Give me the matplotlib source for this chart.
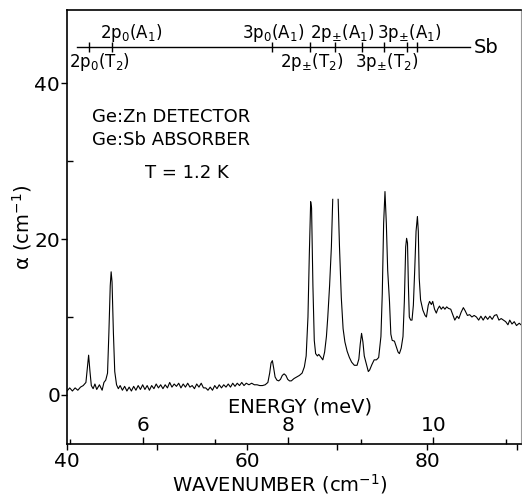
import numpy as np
import matplotlib
matplotlib.use("Agg")
import matplotlib.pyplot as plt
from matplotlib.ticker import FixedLocator, NullFormatter

plt.rcParams['font.family'] = ['DejaVu Sans']
plt.rcParams['mathtext.default'] = 'regular'

# ---- spectrum (wavenumber cm^-1, absorption cm^-1) ----
wavenumber = [
    40.0, 40.3, 40.6, 40.9, 41.2, 41.5, 41.8, 42.1, 42.3, 42.4, 42.55, 42.7, 42.9, 43.1, 43.3,
    43.6, 43.9, 44.1, 44.3, 44.5, 44.65, 44.8, 44.9, 45.0, 45.15, 45.3, 45.5, 45.7,
    45.9, 46.15, 46.4, 46.65, 46.9, 47.15, 47.4, 47.65, 47.9, 48.15, 48.4, 48.65, 48.9, 49.15,
    49.4, 49.65, 49.9, 50.15, 50.4, 50.65, 50.9, 51.15, 51.4, 51.65, 51.9, 52.15, 52.4, 52.65,
    52.9, 53.15, 53.4, 53.65, 53.9, 54.15, 54.4, 54.65, 54.9, 55.15, 55.4, 55.65, 55.9, 56.15,
    56.4, 56.65, 56.9, 57.15, 57.4, 57.65, 57.9, 58.15, 58.4, 58.65, 58.9, 59.15, 59.4, 59.65,
    59.9, 60.2, 60.5, 60.8, 61.1, 61.4, 61.7, 62.0, 62.3, 62.5, 62.65, 62.8, 62.95, 63.1, 63.3,
    63.5, 63.7, 63.9, 64.1, 64.3, 64.5, 64.7, 64.9, 65.2, 65.5, 65.8, 66.1, 66.35, 66.55, 66.75,
    66.9, 67.05, 67.15, 67.3, 67.45, 67.6, 67.8, 67.95, 68.15, 68.4, 68.6, 68.8, 68.95, 69.15,
    69.35, 69.5, 69.8, 70.1, 70.25, 70.45, 70.65, 70.85, 71.1, 71.35, 71.6, 71.9, 72.2, 72.4,
    72.55, 72.7, 72.85, 73.0, 73.2, 73.45, 73.6, 73.85, 74.1, 74.35, 74.6, 74.85, 75.0, 75.15,
    75.3, 75.45, 75.6, 75.8, 75.95, 76.1, 76.35, 76.55, 76.75, 76.9, 77.1, 77.3, 77.45, 77.6,
    77.7, 77.8, 77.9, 78.0, 78.15, 78.3, 78.45, 78.6, 78.75, 78.9, 79.0, 79.1, 79.25, 79.5,
    79.75, 79.9, 80.1, 80.25, 80.45, 80.6, 80.8, 81.0, 81.15, 81.35, 81.55, 81.75, 81.95, 82.15,
    82.35, 82.6, 82.85, 83.05, 83.3, 83.5, 83.75, 84.0, 84.2, 84.45, 84.7, 84.95, 85.2, 85.45,
    85.7, 85.95, 86.2, 86.45, 86.7, 86.95, 87.2, 87.45, 87.7, 87.95, 88.2, 88.45, 88.7, 88.95,
    89.15, 89.4, 89.65, 89.9, 90.2, 90.4,
]
alpha = [
    0.5, 0.9, 0.5, 0.9, 0.6, 1.0, 1.2, 1.6, 4.0, 5.1, 3.0, 1.2, 0.8, 1.4, 0.7,
    1.3, 0.6, 1.6, 1.9, 2.8, 8.0, 14.0, 15.8, 14.5, 8.0, 3.0, 1.3, 0.8,
    1.2, 0.6, 1.1, 0.5, 1.0, 0.5, 1.1, 0.6, 1.2, 0.7, 1.3, 0.7, 1.2, 0.6,
    1.2, 0.8, 1.4, 0.9, 1.3, 0.8, 1.3, 0.9, 1.6, 1.0, 1.4, 1.1, 1.5, 0.9,
    1.4, 1.0, 1.5, 1.0, 1.2, 0.8, 1.4, 1.0, 1.5, 0.9, 0.9, 0.6, 1.0, 0.6,
    1.2, 0.8, 1.3, 0.9, 1.3, 1.0, 1.4, 1.0, 1.5, 1.1, 1.5, 1.2, 1.6, 1.2,
    1.5, 1.3, 1.5, 1.3, 1.3, 1.2, 1.2, 1.3, 1.6, 2.8, 4.1, 4.4, 3.4, 2.3, 1.9,
    1.8, 2.0, 2.5, 2.7, 2.5, 2.0, 1.8, 1.8, 2.1, 2.3, 2.5, 2.8, 3.6, 5.0, 10.0,
    18.0, 24.8, 24.0, 14.0, 7.0, 5.3, 5.0, 5.2, 4.9, 4.5, 5.5, 7.5, 10.0, 14.0,
    19.0, 25.1, np.nan, 25.1, 19.0, 12.5, 8.5, 6.8, 5.6, 4.8, 4.2, 3.8, 3.8, 4.6,
    6.5, 7.9, 6.8, 5.0, 4.1, 3.0, 3.2, 3.9, 4.5, 4.5, 4.8, 7.5, 13.0, 22.0,
    26.1, 22.0, 16.0, 12.0, 7.8, 7.0, 6.9, 6.2, 5.5, 5.3, 6.0, 7.5, 12.0, 19.0,
    20.1, 19.5, 14.0, 10.0, 9.6, 9.6, 11.5, 16.0, 21.0, 22.9, 21.0, 15.0, 12.2, 10.9,
    10.2, 10.0, 11.5, 12.0, 11.6, 12.0, 11.0, 10.5, 11.0, 11.4, 11.0, 11.3, 11.0, 11.3,
    11.1, 11.0, 10.2, 9.6, 10.1, 9.8, 10.6, 11.2, 10.8, 10.2, 10.3, 10.0, 10.2, 10.0,
    9.6, 10.1, 9.6, 10.1, 9.7, 10.1, 9.7, 10.2, 10.3, 9.6, 9.8, 9.6, 9.4, 9.0,
    9.6, 9.1, 9.4, 8.9, 9.2, 9.0,
]

# ---- axes ticks ----
wn_major = [40, 60, 80]
wn_minor = [50, 70, 90]
ymajor = [0, 20, 40]
yminor = [10, 30]
mev_major = [6, 8, 10]
mev_minor = [5, 7, 9, 11]
CM_PER_MEV = 8.0655

# ---- Sb level diagram ----
level_y = 44.6
level_span = [41.1, 84.7]
level_marks = [42.4, 45.0, 62.8, 67.0, 69.7, 72.8, 75.2, 77.8, 78.9]
labels_above = [r"2p$_0$(A$_1$)", r"3p$_0$(A$_1$)", r"2p$_{\pm}$(A$_1$)", r"3p$_{\pm}$(A$_1$)"]
labels_above_x = [47.1, 62.9, 70.6, 78.0]
labels_below = [r"2p$_0$(T$_2$)", r"2p$_{\pm}$(T$_2$)", r"3p$_{\pm}$(T$_2$)"]
labels_below_x = [40.2, 67.2, 75.5]
labels_below_ha = ['left', 'center', 'center']
label_above_y = 46.5
label_below_y = 42.7

W, H = 522, 498
fig = plt.figure(figsize=(W / 100, H / 100), dpi=100)
L, R, T, B = 67, 521, 10, 444
ax = fig.add_axes([L / W, 1 - B / H, (R - L) / W, (B - T) / H])

ax.plot(wavenumber, alpha, color='black', lw=0.8)

ax.set_xlim(40, 90.4)
ax.set_ylim(-6.3, 49.4)

for s in ['left', 'bottom', 'top']:
    ax.spines[s].set_linewidth(1.2)
ax.spines['right'].set_linewidth(0.8)
ax.spines['right'].set_color('0.6')

ax.xaxis.set_major_locator(FixedLocator(wn_major))
ax.xaxis.set_minor_locator(FixedLocator(wn_minor))
ax.yaxis.set_major_locator(FixedLocator(ymajor))
ax.yaxis.set_minor_locator(FixedLocator(yminor))
ax.tick_params(axis='x', which='major', direction='out', length=4, width=1.0,
               labelsize=14.5, pad=1.5)
ax.tick_params(axis='x', which='minor', direction='out', length=4, width=1.0)
ax.tick_params(axis='y', which='major', direction='out', length=4, width=1.0,
               labelsize=14.5, pad=1)
ax.tick_params(axis='y', which='minor', direction='in', length=4, width=1.0)

ax.set_xlabel("WAVENUMBER (cm$^{-1}$)", fontsize=14, labelpad=3)
ax.xaxis.set_label_coords((280 - L) / (R - L), -0.065)
ax.set_ylabel(r"$\alpha$ (cm$^{-1}$)", fontsize=14)
ax.yaxis.set_label_coords(-(L - 34) / (R - L), 0.5)

# energy axis (meV) drawn inside along the bottom
sec = ax.secondary_xaxis(0.0, functions=(lambda x: x / CM_PER_MEV, lambda e: e * CM_PER_MEV))
sec.set_alignment('top')
sec.spines['top'].set_visible(False)
sec.spines['bottom'].set_visible(False)
sec.xaxis.set_major_locator(FixedLocator(mev_major))
sec.xaxis.set_minor_locator(FixedLocator(mev_minor))
sec.xaxis.set_minor_formatter(NullFormatter())
sec.tick_params(axis='x', which='major', direction='out', length=5, width=1.0,
                labelsize=14.5, pad=1.5)
sec.tick_params(axis='x', which='minor', direction='out', length=3.5, width=1.0)
sec.set_xlabel("ENERGY (meV)", fontsize=14, labelpad=2.5)
sec.xaxis.label.set_x((300 - L) / (R - L))

# level diagram
ax.plot(level_span, [level_y, level_y], color='black', lw=1.0)
ax.plot(level_marks, [level_y] * len(level_marks), ls='none', marker='|',
        ms=7, mew=1.0, color='black')
ax.text(level_span[1] + 0.4, level_y, "Sb", fontsize=14, ha='left', va='center')
for lab, xx in zip(labels_above, labels_above_x):
    ax.text(xx, label_above_y, lab, fontsize=12, ha='center', va='center')
for lab, xx, ha in zip(labels_below, labels_below_x, labels_below_ha):
    ax.text(xx, label_below_y, lab, fontsize=12, ha=ha, va='center')

# annotations
ax.text((92 - L) / (R - L), (B - 117) / (B - T), "Ge:Zn DETECTOR", transform=ax.transAxes,
        fontsize=13, ha='left', va='center')
ax.text((92 - L) / (R - L), (B - 140) / (B - T), "Ge:Sb ABSORBER", transform=ax.transAxes,
        fontsize=13, ha='left', va='center')
ax.text((145 - L) / (R - L), (B - 173) / (B - T), "T = 1.2 K", transform=ax.transAxes,
        fontsize=13, ha='left', va='center')

fig.savefig("out.png", dpi=100)
